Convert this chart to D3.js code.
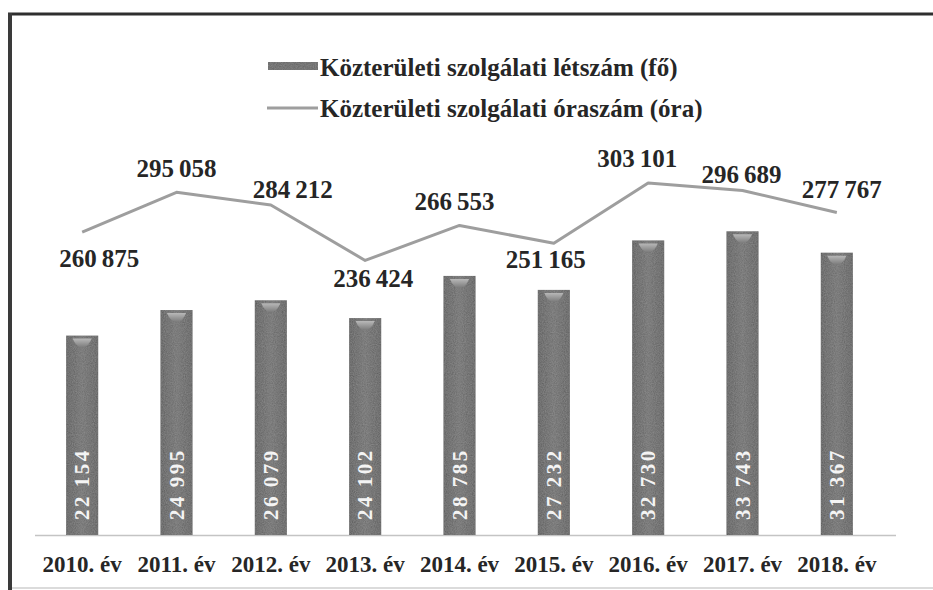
<!DOCTYPE html>
<html>
<head>
<meta charset="utf-8">
<script src="https://cdn.jsdelivr.net/npm/d3@7"></script>
</head>
<body style="margin:0;background:#fff">
<svg width="933" height="590"></svg>
<script>
// data
const years = ['2010. év', '2011. év', '2012. év', '2013. év', '2014. év', '2015. év', '2016. év', '2017. év', '2018. év'];
const letszam = [22154, 24995, 26079, 24102, 28785, 27232, 32730, 33743, 31367];
const oraszam = [260875, 295058, 284212, 236424, 266553, 251165, 303101, 296689, 277767];
const seriesNames = ['Közterületi szolgálati létszám (fő)', 'Közterületi szolgálati óraszám (óra)'];

// label nudges for the line values [dx, dy from point]
const lineLabelOffsets = [[17, 35], [0, -15], [22, -7], [8, 27], [-5, -15], [-8, 25], [-11, -16], [-1, -7], [5, -14]];

const svg = d3.select('svg');
const baseY = 535;
const topY = 175;
const serif = 'Liberation Serif';
const ink = '#262626';

const fmt = v => d3.format(',')(v).replace(/,/g, '\u2009');

const x = d3.scaleBand()
  .domain(years)
  .range([35, 884])
  .paddingInner(0.66)
  .paddingOuter(0.33);

const yBar = d3.scaleLinear().domain([0, 40000]).range([baseY, topY]);
const yLine = d3.scaleLinear().domain([0, 310000]).range([baseY, topY]);

const defs = svg.append('defs');
const grad = defs.append('linearGradient').attr('id', 'barGrad').attr('x1', 0).attr('x2', 1).attr('y1', 0).attr('y2', 0);
grad.append('stop').attr('offset', '0%').attr('stop-color', '#555');
grad.append('stop').attr('offset', '50%').attr('stop-color', '#6b6b6b');
grad.append('stop').attr('offset', '100%').attr('stop-color', '#575757');

const hl = defs.append('linearGradient').attr('id', 'hlGrad').attr('x1', 0).attr('x2', 0).attr('y1', 0).attr('y2', 1);
hl.append('stop').attr('offset', '0%').attr('stop-color', '#b8b8b8');
hl.append('stop').attr('offset', '100%').attr('stop-color', '#7a7a7a');

// grain like the scan
const grain = defs.append('filter').attr('id', 'grain');
grain.append('feTurbulence').attr('type', 'fractalNoise').attr('baseFrequency', 0.9).attr('numOctaves', 2).attr('result', 'n');
grain.append('feColorMatrix').attr('in', 'n').attr('type', 'matrix')
  .attr('values', '0 0 0 0 0.5  0 0 0 0 0.5  0 0 0 0 0.5  0 0 0 0.35 0').attr('result', 'g');
grain.append('feComposite').attr('in', 'g').attr('in2', 'SourceGraphic').attr('operator', 'in').attr('result', 'gc');
const gm = grain.append('feMerge');
gm.append('feMergeNode').attr('in', 'SourceGraphic');
gm.append('feMergeNode').attr('in', 'gc');

// frame
svg.append('line').attr('x1', 8).attr('x2', 933).attr('y1', 14).attr('y2', 14)
  .attr('stroke', '#2e2e2e').attr('stroke-width', 3);
svg.append('line').attr('x1', 10).attr('x2', 10).attr('y1', 13).attr('y2', 590)
  .attr('stroke', '#3a3a3a').attr('stroke-width', 4);
svg.append('line').attr('x1', 12).attr('x2', 933).attr('y1', 588).attr('y2', 588)
  .attr('stroke', '#cfcfcf').attr('stroke-width', 1.5);

// baseline
svg.append('line').attr('x1', 35).attr('x2', 896).attr('y1', baseY + 0.5).attr('y2', baseY + 0.5)
  .attr('stroke', '#c4c4c4').attr('stroke-width', 1.5);

// bars
const bars = svg.append('g').selectAll('g')
  .data(years.map((y, i) => ({ year: y, v: letszam[i] })))
  .join('g');

bars.append('rect')
  .attr('x', d => x(d.year))
  .attr('y', d => yBar(d.v))
  .attr('width', x.bandwidth())
  .attr('height', d => baseY - yBar(d.v))
  .attr('fill', 'url(#barGrad)')
  .attr('filter', 'url(#grain)');

bars.append('path')
  .attr('d', d => {
    const cx = x(d.year) + x.bandwidth() / 2;
    const t = yBar(d.v) + 3;
    const hw = x.bandwidth() * 0.3;
    return `M${cx - hw},${t} L${cx + hw},${t} Q${cx + hw * 0.6},${t + 9} ${cx},${t + 9} Q${cx - hw * 0.6},${t + 9} ${cx - hw},${t} Z`;
  })
  .attr('fill', 'url(#hlGrad)');

bars.append('text')
  .attr('font-family', serif)
  .attr('font-weight', 'bold')
  .attr('font-size', 21)
  .attr('letter-spacing', 2.5)
  .attr('fill', '#f4f4f4')
  .attr('transform', d => `translate(${x(d.year) + x.bandwidth() / 2 + 7},${baseY - 15}) rotate(-90)`)
  .text(d => fmt(d.v));

// line
const pts = years.map((y, i) => [x(y) + x.bandwidth() / 2, yLine(oraszam[i])]);
svg.append('path')
  .attr('d', d3.line()(pts))
  .attr('fill', 'none')
  .attr('stroke', '#9e9e9e')
  .attr('stroke-width', 3)
  .attr('stroke-linejoin', 'round');

svg.append('g').selectAll('text')
  .data(oraszam)
  .join('text')
  .attr('font-family', serif)
  .attr('font-weight', 'bold')
  .attr('font-size', 25)
  .attr('fill', ink)
  .attr('text-anchor', 'middle')
  .attr('x', (d, i) => pts[i][0] + lineLabelOffsets[i][0])
  .attr('y', (d, i) => pts[i][1] + lineLabelOffsets[i][1])
  .text(d => fmt(d));

// x axis labels
const xAxis = d3.axisBottom(x).tickSize(0).tickPadding(0);
const ax = svg.append('g').attr('transform', `translate(0,${baseY})`).call(xAxis);
ax.attr('font-family', serif).attr('font-size', 23);
ax.select('.domain').remove();
ax.selectAll('text')
  .attr('font-family', serif)
  .attr('font-weight', 'bold')
  .attr('font-size', 23)
  .attr('fill', ink)
  .attr('dy', null)
  .attr('y', 37);

// legend
const lg = svg.append('g');
lg.append('rect').attr('x', 268).attr('y', 62).attr('width', 50).attr('height', 8)
  .attr('fill', '#5e5e5e').attr('filter', 'url(#grain)');
lg.append('line').attr('x1', 267).attr('x2', 318).attr('y1', 108).attr('y2', 108)
  .attr('stroke', '#9e9e9e').attr('stroke-width', 3);
lg.selectAll('text')
  .data(seriesNames)
  .join('text')
  .attr('font-family', serif)
  .attr('font-weight', 'bold')
  .attr('font-size', 25)
  .attr('fill', ink)
  .attr('x', 320)
  .attr('y', (d, i) => 76 + i * 41)
  .text(d => d);
</script>
</body>
</html>
